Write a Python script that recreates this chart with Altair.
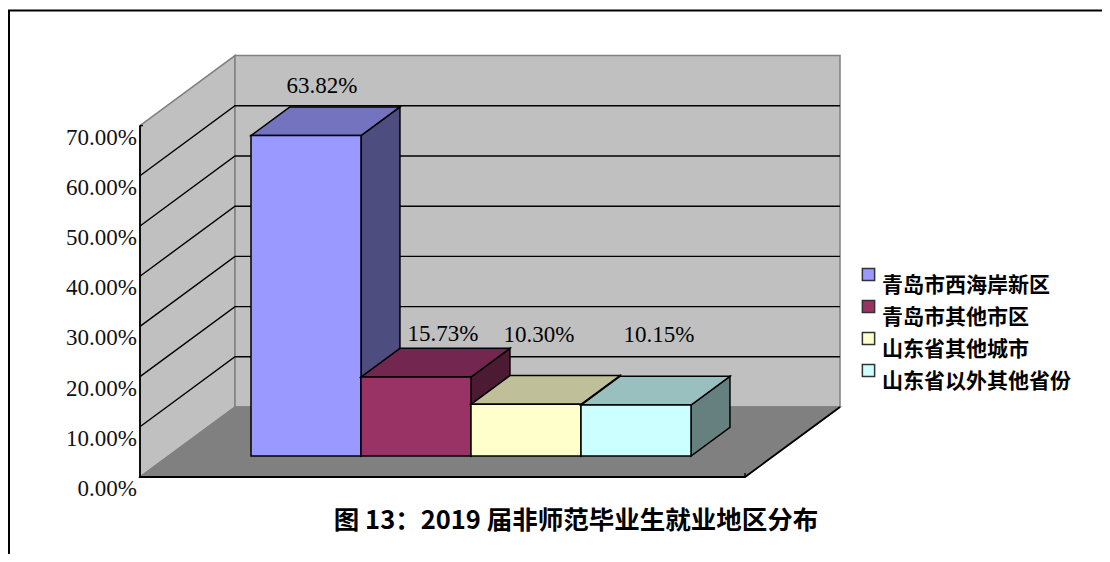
import altair as alt
import pandas as pd

# ---- data ----
CATEGORIES = ["青岛市西海岸新区", "青岛市其他市区", "山东省其他城市", "山东省以外其他省份"]
VALUES = [63.82, 15.73, 10.30, 10.15]
VALUE_LABELS = ["63.82%", "15.73%", "10.30%", "10.15%"]
TICKS = [0, 10, 20, 30, 40, 50, 60, 70]
TICK_LABELS = ["0.00%", "10.00%", "20.00%", "30.00%", "40.00%", "50.00%", "60.00%", "70.00%"]
TITLE = "图 13\uff1a2019 届非师范毕业生就业地区分布"

# ---- colours ----
FRONT = ["#9999FF", "#993366", "#FFFFCC", "#CCFFFF"]
TOP = ["#7373BF", "#732650", "#BFBF99", "#99BFBF"]
SIDE = ["#4D4D80", "#4D1A33", "#808066", "#668080"]
WALL, FLOOR, EDGE = "#C0C0C0", "#808080", "#808080"

# ---- layout: pixels of the page ----
W, H = 1094, 546
ORIGIN_X, ORIGIN_Y = 140, 477      # front-left foot of the value axis
PX_CAT, PX_PCT = 110.0, 5.02       # pixels per bar width / per percent
DEPTH_X, DEPTH_Y = 95 / PX_CAT, 70 / PX_PCT   # screen shift of the whole depth
FLOOR_W = 605 / PX_CAT
BAR_D0, BAR_D1 = 0.30, 0.71        # depth span of the bars
BAR_U0 = 82.5 / PX_CAT             # gap before the first bar

def ux(px):
    return (px - ORIGIN_X) / PX_CAT

def vy(py):
    return (ORIGIN_Y - py) / PX_PCT

def proj(u, v, d=0.0):
    return u + d * DEPTH_X, v + d * DEPTH_Y

X = alt.X("x:Q", scale=alt.Scale(domain=[ux(8), ux(8 + W)], nice=False, zero=False), axis=None)
Y = alt.Y("y:Q", scale=alt.Scale(domain=[vy(8 + H), vy(8)], nice=False, zero=False), axis=None)

def vface(a, b, fill, stroke="black", sw=1.5, **enc):
    """Parallelogram with vertical edges; a and b are (x, ylow, yhigh)."""
    df = pd.DataFrame([dict(x=a[0], y=a[2], y2=a[1]), dict(x=b[0], y=b[2], y2=b[1])])
    for k, val in enc.pop("extra", {}).items():
        df[k] = val
    m = alt.Chart(df).mark_area(stroke=stroke, strokeWidth=sw, opacity=1,
                                **({} if enc else {"fill": fill}))
    return m.encode(x=X, y=Y, y2=alt.Y2("y2:Q"), **enc)

def hface(a, b, fill, stroke="black", sw=1.5):
    """Parallelogram with horizontal edges; a and b are (y, xlow, xhigh)."""
    df = pd.DataFrame([dict(y=a[0], x=a[1], x2=a[2]), dict(y=b[0], x=b[1], x2=b[2])])
    return alt.Chart(df).mark_area(orient="horizontal", stroke=stroke, strokeWidth=sw,
                                   fill=fill, opacity=1).encode(x=X, x2=alt.X2("x2:Q"), y=Y)

def poly(points, color, sw=1.5):
    df = pd.DataFrame([dict(x=p[0], y=p[1], i=k) for k, p in enumerate(points)])
    return alt.Chart(df).mark_line(color=color, strokeWidth=sw, interpolate="linear").encode(
        x=X, y=Y, order="i:O")

layers = []

# frame (left and top edges only)
layers.append(poly([(ux(9), vy(8 + H)), (ux(9), vy(10.5)), (ux(8 + W), vy(10.5))], "black", 2))

# walls and floor
vtop = max(TICKS)
layers.append(vface((0, 0, vtop), (DEPTH_X, DEPTH_Y, vtop + DEPTH_Y), WALL, EDGE))
layers.append(vface((DEPTH_X, DEPTH_Y, vtop + DEPTH_Y), (DEPTH_X + FLOOR_W, DEPTH_Y, vtop + DEPTH_Y), WALL, EDGE))
layers.append(hface((0, 0, FLOOR_W), (DEPTH_Y, DEPTH_X, DEPTH_X + FLOOR_W), FLOOR, EDGE))

# gridlines
for t in TICKS[1:-1]:
    layers.append(poly([proj(0, t, 0), proj(0, t, 1), proj(FLOOR_W, t, 1)], "black", 1.4))

# axis lines and their small end ticks
layers.append(poly([(0, vtop), (0, 0), (FLOOR_W, 0), proj(FLOOR_W, 0, 1)], "black", 1.8))
layers.append(poly([(0, vtop), (3 / PX_CAT, vtop)], "black", 1.4))
layers.append(poly([(FLOOR_W, 0), (FLOOR_W, 4 / PX_PCT)], "black", 1.4))

# bars
color = alt.Color("cat:N", scale=alt.Scale(domain=CATEGORIES, range=FRONT),
                  legend=alt.Legend(title=None, orient="none", legendX=850, legendY=256,
                                    symbolType="square", symbolSize=150, symbolStrokeColor="#333333",
                                    symbolStrokeWidth=1.5, labelFont="Noto Sans CJK SC",
                                    labelFontSize=21, labelFontWeight="bold", labelColor="black",
                                    labelBaseline="top", labelLimit=300, labelOffset=3,
                                    rowPadding=-1, padding=0, symbolOpacity=1))
for i, (c, v) in enumerate(zip(CATEGORIES, VALUES)):
    u0 = BAR_U0 + i
    u1 = u0 + 1
    f0, b0 = proj(u0, 0, BAR_D0), proj(u0, 0, BAR_D1)
    f1, b1 = proj(u1, 0, BAR_D0), proj(u1, 0, BAR_D1)
    layers.append(vface((f1[0], f1[1], f1[1] + v), (b1[0], b1[1], b1[1] + v), SIDE[i]))
    layers.append(hface((f0[1] + v, f0[0], f1[0]), (b0[1] + v, b0[0], b1[0]), TOP[i]))
    layers.append(vface((f0[0], f0[1], f0[1] + v), (f1[0], f1[1], f1[1] + v), None,
                        color=color, extra={"cat": c}))

# value-axis tick labels
tick_df = pd.DataFrame({"x": [ux(137)] * len(TICKS),
                        "y": [t - 12 / PX_PCT for t in TICKS],
                        "t": TICK_LABELS})
layers.append(alt.Chart(tick_df).mark_text(align="right", baseline="middle", font="Liberation Serif",
                                           fontSize=23, color="#111111").encode(x=X, y=Y, text="t:N"))

# value labels above the bars
LABEL_CX = [322, 443, 539, 659]
LABEL_CY = [86, 334, 335, 335]
lab_df = pd.DataFrame({"x": [ux(p) for p in LABEL_CX], "y": [vy(p) for p in LABEL_CY], "t": VALUE_LABELS})
layers.append(alt.Chart(lab_df).mark_text(align="center", baseline="middle", font="Liberation Serif",
                                          fontSize=23, color="black").encode(x=X, y=Y, text="t:N"))

# caption
cap_df = pd.DataFrame({"x": [ux(576)], "y": [vy(521)], "t": [TITLE]})
layers.append(alt.Chart(cap_df).mark_text(align="center", baseline="middle", font="Noto Sans CJK SC",
                                          fontSize=25.5, fontWeight="bold", color="black").encode(x=X, y=Y, text="t:N"))

chart = alt.layer(*layers).properties(
    width=W, height=H, autosize=alt.AutoSizeParams(type="none"), padding=0, background="white"
).configure_view(stroke=None)

chart.save("out.html", embed_options={"renderer": "svg", "actions": False})
